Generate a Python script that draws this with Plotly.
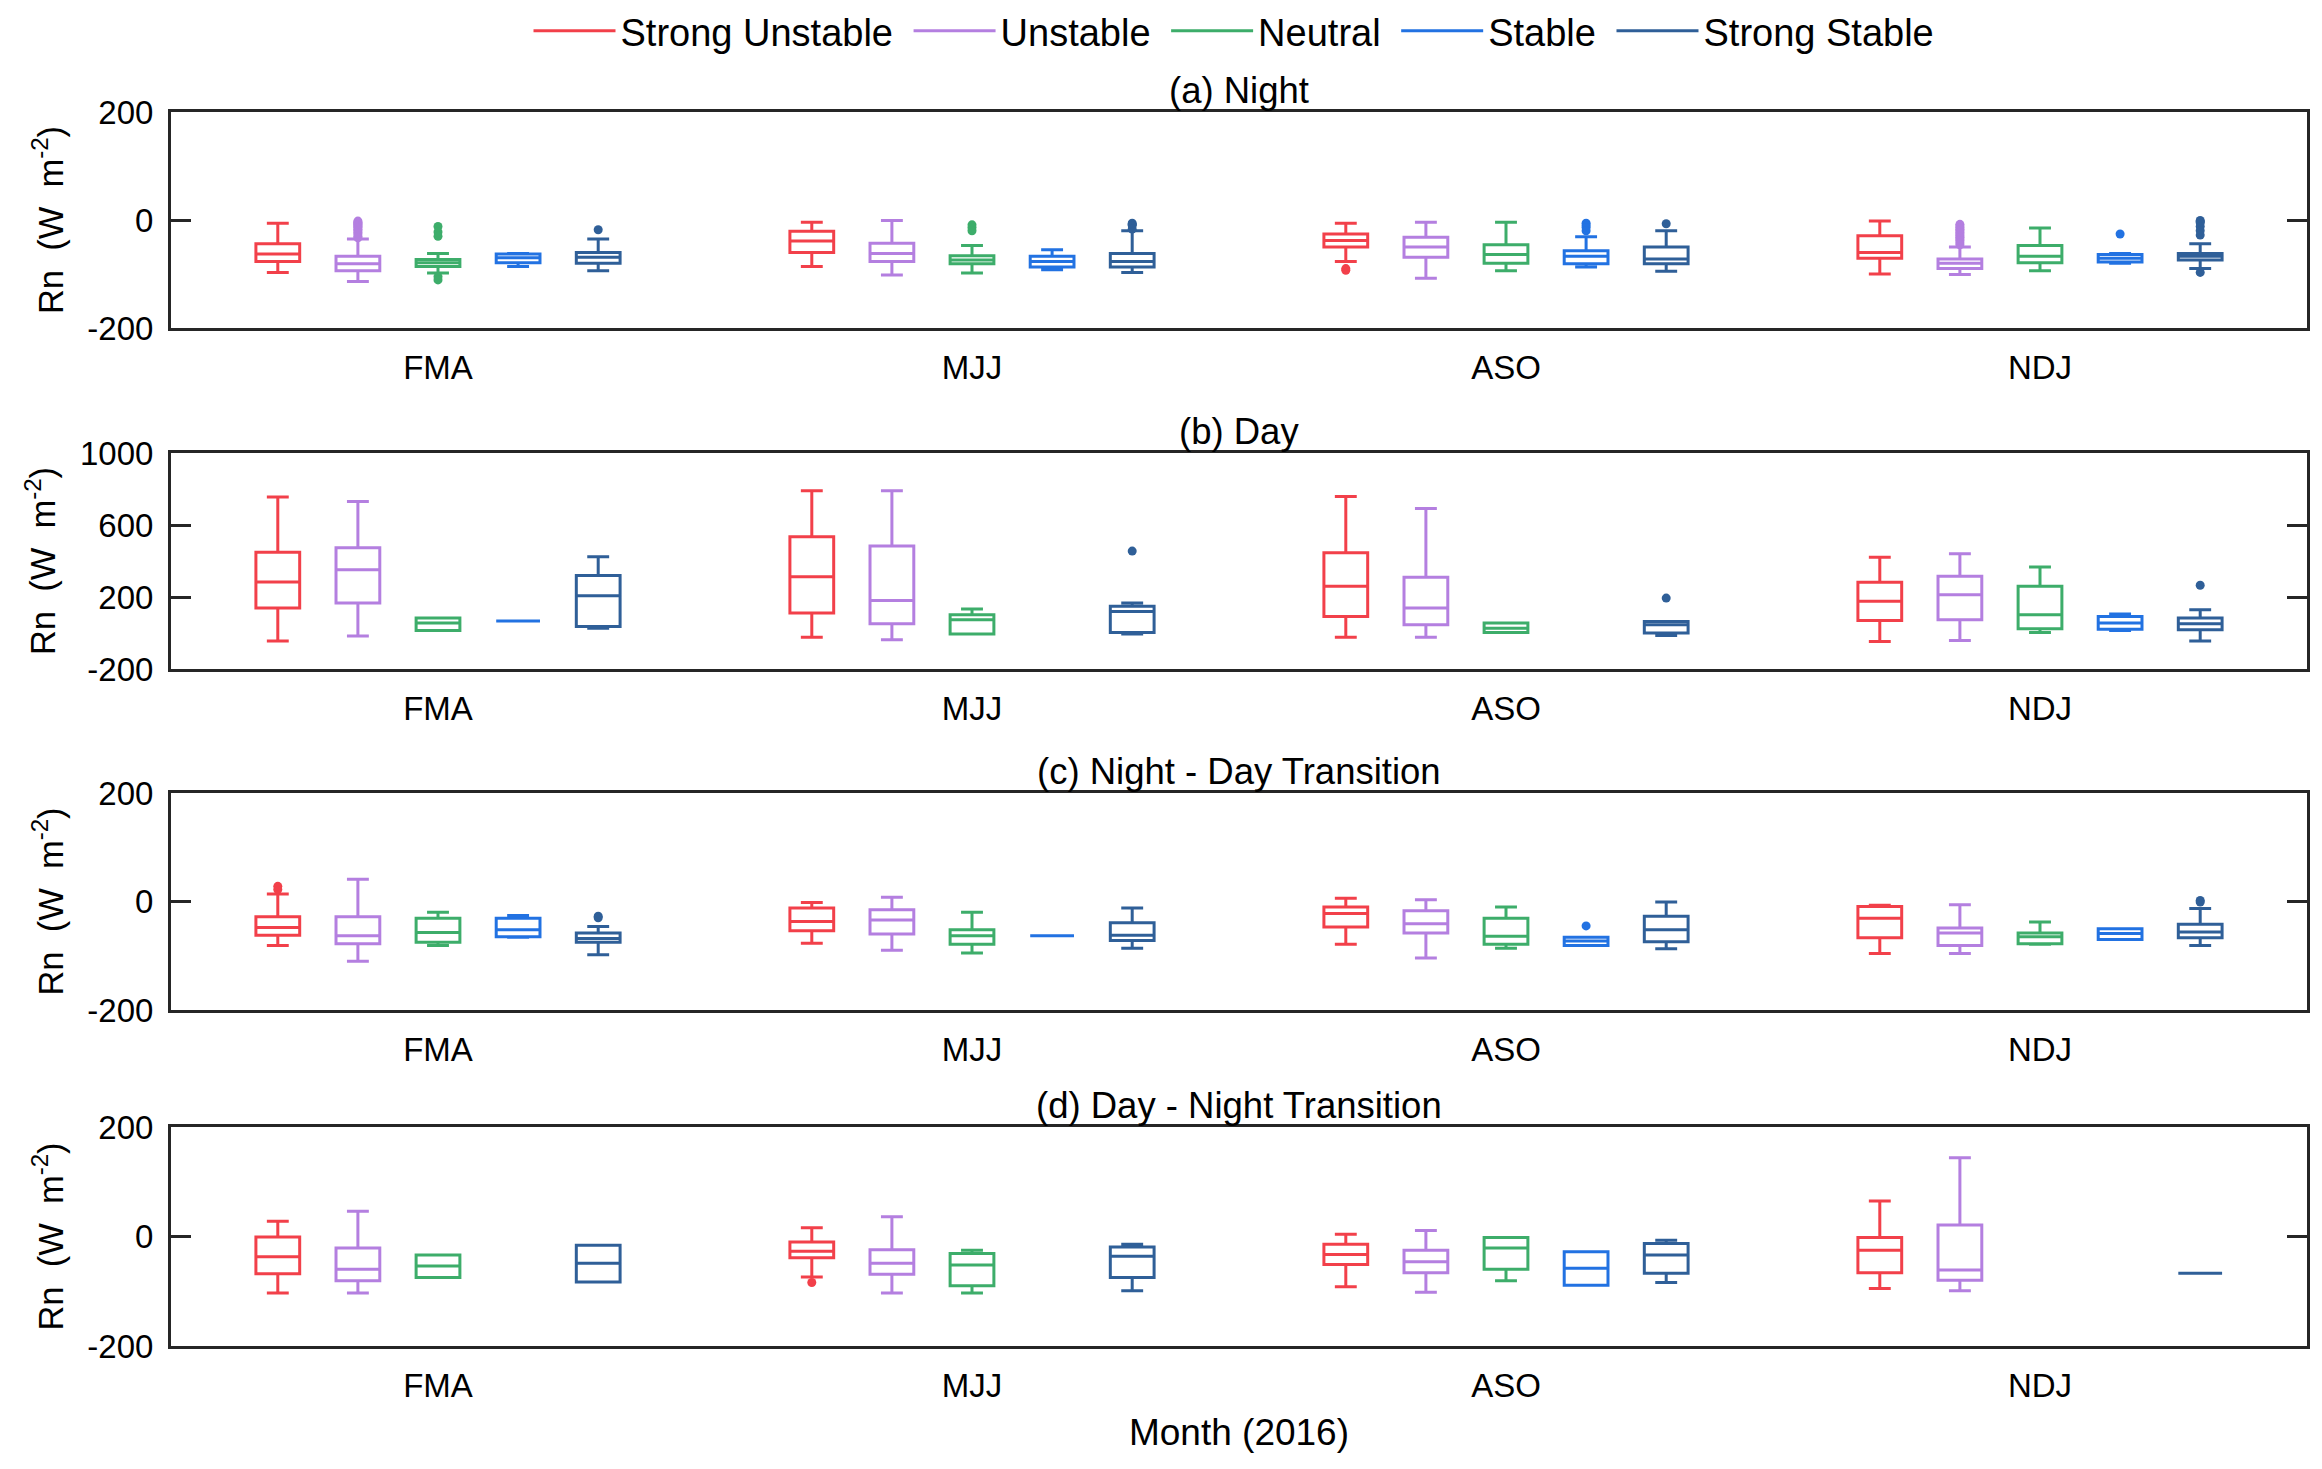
import plotly.graph_objects as go

# ---------------- data ----------------
seasons = ["FMA", "MJJ", "ASO", "NDJ"]
classes = ["Strong Unstable", "Unstable", "Neutral", "Stable", "Strong Stable"]
class_colors = ["#F2404A", "#B47FE0", "#3DAD6A", "#2272E2", "#2F5F98"]
panel_titles = ["(a) Night", "(b) Day", "(c) Night - Day Transition", "(d) Day - Night Transition"]
y_label = "Rn  (W  m<sup>-2</sup>)"
x_label = "Month (2016)"

# rows = classes (Strong Unstable .. Strong Stable), columns = seasons (FMA, MJJ, ASO, NDJ)
# (a) Night
night_lo = [[-97, -86, -77, -100], [-114, -102, -108, -101], [-98, -98, -94, -94], [-86, -92, -87, -80], [-94, -97, -95, -90]]
night_q1 = [[-77, -60, -50, -71], [-94, -77, -69, -90], [-86, -81, -80, -79], [-79, -87, -81, -78], [-80, -87, -81, -74]]
night_med = [[-63, -39, -38, -60], [-81, -62, -50, -80], [-79, -74, -64, -67], [-70, -77, -67, -71], [-69, -77, -72, -67]]
night_q3 = [[-44, -21, -26, -29], [-67, -43, -32, -72], [-73, -66, -46, -47], [-63, -67, -57, -64], [-60, -62, -50, -62]]
night_hi = [[-6, -4, -6, -2], [-35, -1, -4, -50], [-62, -47, -4, -15], [-62, -55, -31, -62], [-35, -20, -20, -44]]
night_out = [
    [[], [], [-90, -93], []],
    [[-2, -4, -6, -8, -10, -12, -14, -17, -20, -23, -26, -30, -33], [], [],
     [-8, -11, -14, -17, -20, -23, -26, -29, -32, -35, -38, -42, -46]],
    [[-12, -22, -30, -105, -111], [-9, -14, -20], [], []],
    [[], [], [-6, -10, -14, -20], [-26]],
    [[-18], [-6, -8, -10, -17], [-7], [-1, -3, -5, -12, -20, -28, -97]],
]

# (b) Day
day_lo = [[-44, -23, -23, -47], [-16, -38, -23, -42], [14, -5, 3, 3], [66, None, None, 14], [27, -5, -14, -44]]
day_q1 = [[139, 111, 92, 70], [167, 51, 46, 73], [14, -5, 3, 23], [66, None, None, 21], [36, 3, 0, 18]]
day_med = [[284, 312, 260, 176], [351, 181, 139, 213], [55, 73, 27, 101], [66, None, None, 55], [207, 120, 46, 51]]
day_q3 = [[449, 535, 446, 282], [473, 483, 310, 315], [83, 101, 55, 260], [66, None, None, 92], [319, 148, 64, 83]]
day_hi = [[756, 790, 758, 421], [730, 790, 691, 440], [83, 133, 55, 366], [66, None, None, 105], [423, 167, 64, 129]]
day_out = [
    [[], [], [], []],
    [[], [], [], []],
    [[], [], [], []],
    [[], [], [], []],
    [[], [455], [194], [265]],
]

# (c) Night - Day Transition
nd_lo = [[-81, -77, -79, -96], [-110, -90, -104, -96], [-81, -95, -86, -79], [-66, -63, -81, -70], [-98, -86, -87, -81]]
nd_q1 = [[-62, -54, -47, -67], [-78, -60, -58, -81], [-75, -79, -79, -78], [-65, -63, -81, -70], [-75, -72, -74, -67]]
nd_med = [[-48, -37, -22, -31], [-63, -34, -41, -58], [-57, -63, -64, -65], [-52, -63, -73, -59], [-68, -62, -52, -56]]
nd_q3 = [[-28, -12, -10, -9], [-28, -15, -17, -49], [-31, -52, -31, -58], [-31, -63, -66, -50], [-58, -39, -27, -42]]
nd_hi = [[14, -2, 6, -7], [41, 8, 3, -6], [-20, -20, -10, -38], [-26, -63, -66, -50], [-46, -12, -1, -13]]
nd_out = [
    [[22, 28], [], [], []],
    [[], [], [], []],
    [[], [], [], []],
    [[], [], [-45], []],
    [[-27, -30], [], [], [2, -1]],
]

# (d) Day - Night Transition
dn_lo = [[-103, -74, -92, -95], [-103, -103, -102, -99], [-75, -103, -81, None], [None, None, -89, None], [-83, -99, -84, -67]]
dn_q1 = [[-68, -39, -51, -66], [-81, -69, -66, -80], [-75, -90, -60, None], [None, None, -89, None], [-83, -75, -67, -67]]
dn_med = [[-37, -27, -33, -25], [-60, -49, -46, -61], [-54, -52, -21, None], [None, None, -58, None], [-49, -36, -34, -67]]
dn_q3 = [[-1, -10, -14, -2], [-21, -24, -25, 21], [-34, -31, -2, None], [None, None, -28, None], [-16, -19, -13, -67]]
dn_hi = [[28, 16, 4, 65], [46, 36, 11, 144], [-34, -25, -2, None], [None, None, -28, None], [-16, -14, -7, -67]]
dn_out = [
    [[], [-84], [], []],
    [[], [], [], []],
    [[], [], [], []],
    [[], [], [], []],
    [[], [], [], []],
]

y_ranges = [[-200, 200], [-200, 1000], [-200, 200], [-200, 200]]
y_tickvals = [[-200, 0, 200], [-200, 200, 600, 1000], [-200, 0, 200], [-200, 0, 200]]

panels = [
    (night_lo, night_q1, night_med, night_q3, night_hi, night_out),
    (day_lo, day_q1, day_med, day_q3, day_hi, day_out),
    (nd_lo, nd_q1, nd_med, nd_q3, nd_hi, nd_out),
    (dn_lo, dn_q1, dn_med, dn_q3, dn_hi, dn_out),
]

# ---------------- layout constants ----------------
W, H = 2322, 1469
MT, MB, ML, MR = 60, 0, 163, 23
HP = H - MT - MB
FONT = "Liberation Sans, Arial, Helvetica, sans-serif"
class_offset = 0.15
box_width = 0.082
# panel vertical extents in pixels from top of the figure
panel_px = [(104, 320), (445, 661), (785, 1002), (1119, 1338)]
domains = [[1 - (b - MT) / HP, 1 - (t - MT) / HP] for (t, b) in panel_px]
legend_y = 1 + (MT - 23) / HP

fig = go.Figure()

for p, (lo, q1, med, q3, hi, out) in enumerate(panels):
    xa = "x" if p == 0 else f"x{p+1}"
    ya = "y" if p == 0 else f"y{p+1}"
    for c, name in enumerate(classes):
        xs, l, a, m, b, h = [], [], [], [], [], []
        for s in range(len(seasons)):
            if med[c][s] is None:
                continue
            xs.append(s + 1 + (c - 2) * class_offset)
            l.append(lo[c][s]); a.append(q1[c][s]); m.append(med[c][s])
            b.append(q3[c][s]); h.append(hi[c][s])
        fig.add_trace(go.Box(
            x=xs, lowerfence=l, q1=a, median=m, q3=b, upperfence=h,
            width=box_width, whiskerwidth=0.5,
            line=dict(color=class_colors[c], width=3),
            fillcolor="rgba(255,255,255,0)",
            boxpoints=False, showlegend=False, name=name,
            xaxis=xa, yaxis=ya, hoverinfo="skip",
        ))
        ox, oy = [], []
        for s in range(len(seasons)):
            for v in out[c][s]:
                ox.append(s + 1 + (c - 2) * class_offset)
                oy.append(v)
        if ox:
            fig.add_trace(go.Scatter(
                x=ox, y=oy, mode="markers",
                marker=dict(color=class_colors[c], size=9),
                showlegend=False, xaxis=xa, yaxis=ya, hoverinfo="skip",
            ))

# legend entries (line symbols)
for c, name in enumerate(classes):
    fig.add_trace(go.Scatter(
        x=[None], y=[None], mode="lines", name=name + "\u00a0",
        line=dict(color=class_colors[c], width=3), showlegend=True,
    ))

layout = dict(
    width=W, height=H,
    margin=dict(l=ML, r=MR, t=MT, b=MB, autoexpand=False),
    paper_bgcolor="white", plot_bgcolor="white",
    font=dict(family=FONT, size=33, color="black"),
    boxmode="overlay",
    showlegend=True,
    legend=dict(
        orientation="h", x=0.5, xanchor="center", y=legend_y, yanchor="middle",
        font=dict(size=38), bgcolor="rgba(0,0,0,0)", itemwidth=82,
        traceorder="normal",
    ),
    annotations=[],
)

for p in range(4):
    xk = "xaxis" if p == 0 else f"xaxis{p+1}"
    yk = "yaxis" if p == 0 else f"yaxis{p+1}"
    ya = "y" if p == 0 else f"y{p+1}"
    xa = "x" if p == 0 else f"x{p+1}"
    layout[xk] = dict(
        domain=[0, 1], anchor=ya, range=[0.5, 4.5], automargin=False,
        tickmode="array", tickvals=[1, 2, 3, 4], ticktext=seasons,
        ticks="", showline=True, linecolor="#262626", linewidth=3, mirror=True,
        showgrid=False, zeroline=False, tickfont=dict(size=33),
        ticklabelstandoff=8,
        title=dict(text=x_label if p == 3 else "", font=dict(size=37), standoff=17),
    )
    layout[yk] = dict(
        domain=domains[p], anchor=xa, range=y_ranges[p], automargin=False,
        tickmode="array", tickvals=y_tickvals[p],
        ticktext=[str(v) for v in y_tickvals[p]],
        ticks="inside", ticklen=20, tickwidth=3, tickcolor="#262626",
        showline=True, linecolor="#262626", linewidth=3, mirror="ticks",
        showgrid=False, zeroline=False, tickfont=dict(size=33),
        ticklabelstandoff=8,
        title=dict(text=y_label, font=dict(size=34.5), standoff=14),
    )
    layout["annotations"].append(dict(
        text=panel_titles[p], xref="paper", yref="paper",
        x=0.5, y=domains[p][1], xanchor="center", yanchor="bottom",
        showarrow=False, font=dict(size=36.5), yshift=-1,
    ))

fig.update_layout(**layout)
fig.write_html("out.html")
